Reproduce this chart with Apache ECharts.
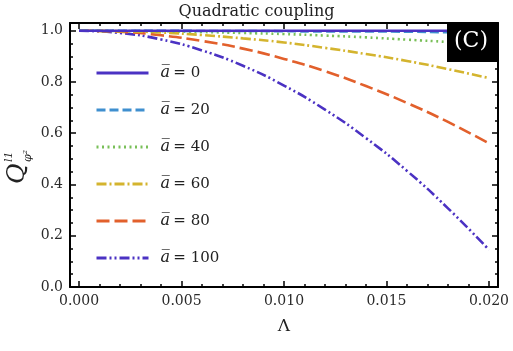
<!DOCTYPE html>
<html>
<head>
<meta charset="utf-8">
<script src="https://cdn.jsdelivr.net/npm/echarts@6/dist/echarts.min.js"></script>
<style>
  html, body { margin: 0; padding: 0; background: #fff; }
  #chart { width: 513px; height: 351px; }
</style>
</head>
<body>
<div id="chart"></div>
<script>
// values
const lambdaValues = [0, 0.002, 0.004, 0.006, 0.008, 0.010, 0.012, 0.014, 0.016, 0.018, 0.020];
const seriesNames = ['0', '20', '40', '60', '80', '100'];
const q_a0   = [1, 1, 1, 1, 1, 1, 1, 1, 1, 1, 1];
const q_a20  = [1, 1.000, 1.000, 0.999, 0.999, 0.998, 0.997, 0.997, 0.996, 0.994, 0.993];
const q_a40  = [1, 0.999, 0.998, 0.995, 0.991, 0.987, 0.981, 0.974, 0.965, 0.956, 0.946];
const q_a60  = [1, 0.998, 0.993, 0.983, 0.970, 0.954, 0.933, 0.909, 0.882, 0.850, 0.815];
const q_a80  = [1, 0.996, 0.982, 0.960, 0.930, 0.890, 0.842, 0.784, 0.718, 0.644, 0.560];
const q_a100 = [1, 0.991, 0.966, 0.923, 0.863, 0.786, 0.692, 0.581, 0.453, 0.307, 0.145];

const xMajorTicks = [0, 0.005, 0.010, 0.015, 0.020];
const xMinorTicks = [0.001, 0.002, 0.003, 0.004, 0.006, 0.007, 0.008, 0.009,
  0.011, 0.012, 0.013, 0.014, 0.016, 0.017, 0.018, 0.019];
const yMajorTicks = [0, 0.2, 0.4, 0.6, 0.8, 1.0];
const yMinorTicks = [0.05, 0.1, 0.15, 0.25, 0.3, 0.35, 0.45, 0.5, 0.55,
  0.65, 0.7, 0.75, 0.85, 0.9, 0.95];

const allValues = [q_a0, q_a20, q_a40, q_a60, q_a80, q_a100];
const colors = ['#4b32c3', '#3f8fcf', '#79bf58', '#d4b42e', '#e2602c', '#4b32c3'];
const dashes = ['solid', [9, 4], [2, 3.5], [10, 3, 2, 3], [13, 5], [10, 3, 2, 3, 2, 3]];

const serif = 'DejaVu Serif';
const X_MIN = -0.00044, X_MAX = 0.02044;
const Y_MIN = 0, Y_MAX = 1.03;

const chart = echarts.init(document.getElementById('chart'));

function tickAxis(kind, position, ticks, len, withLabels, showLine) {
  const ax = {
    type: 'value',
    position: position,
    min: kind === 'x' ? X_MIN : Y_MIN,
    max: kind === 'x' ? X_MAX : Y_MAX,
    axisLine: { show: showLine, onZero: false, lineStyle: { color: '#000', width: 2 } },
    axisTick: { show: true, inside: true, length: len, customValues: ticks,
      lineStyle: { color: '#000', width: 1.5 } },
    axisLabel: { show: false },
    splitLine: { show: false }
  };
  if (withLabels) {
    ax.axisLabel = {
      show: true,
      customValues: ticks,
      margin: 7,
      color: '#2a2a2a',
      fontFamily: serif,
      fontSize: 14,
      formatter: v => v.toFixed(kind === 'x' ? 3 : 1)
    };
  }
  return ax;
}

const xAxes = [
  tickAxis('x', 'bottom', xMajorTicks, 6, true, true),
  tickAxis('x', 'bottom', xMinorTicks, 3, false, false),
  tickAxis('x', 'top', xMajorTicks, 6, false, true),
  tickAxis('x', 'top', xMinorTicks, 3, false, false)
];
xAxes[0].name = 'Λ';
xAxes[0].nameLocation = 'middle';
xAxes[0].nameGap = 31;
xAxes[0].nameTextStyle = { fontFamily: serif, fontSize: 17, color: '#222' };

const yAxes = [
  tickAxis('y', 'left', yMajorTicks, 6, true, true),
  tickAxis('y', 'left', yMinorTicks, 3, false, false),
  tickAxis('y', 'right', yMajorTicks, 6, false, true),
  tickAxis('y', 'right', yMinorTicks, 3, false, false)
];

const series = allValues.map((vals, i) => ({
  name: seriesNames[i],
  type: 'line',
  xAxisIndex: 0,
  yAxisIndex: 0,
  data: lambdaValues.map((x, j) => [x, vals[j]]),
  smooth: true,
  symbol: 'none',
  lineStyle: { color: colors[i], width: 2.6, type: dashes[i] },
  itemStyle: { color: colors[i] },
  z: 10 - i
}));

const option = {
  animation: false,
  backgroundColor: '#fff',
  title: {
    text: 'Quadratic coupling',
    left: 'center',
    top: -1,
    textStyle: { fontFamily: serif, fontSize: 16, fontWeight: 'normal', color: '#222' }
  },
  grid: { left: 70, right: 15, top: 23, bottom: 64 },
  xAxis: xAxes,
  yAxis: yAxes,
  legend: {
    orient: 'vertical',
    left: 90,
    top: 60,
    itemWidth: 52,
    itemHeight: 14,
    itemGap: 21,
    data: seriesNames,
    itemStyle: { opacity: 0, borderWidth: 0 },
    lineStyle: { width: 3 },
    formatter: name => '{a|a\u0305} {t|= ' + name + '}',
    textStyle: {
      padding: [0, 0, 0, 7],
      rich: {
        a: { fontFamily: serif, fontStyle: 'italic', fontSize: 16, color: '#222' },
        t: { fontFamily: serif, fontSize: 15, color: '#222' }
      }
    }
  },
  graphic: [
    {
      type: 'rect', left: 447, top: 23, z: 100,
      shape: { width: 50, height: 39 },
      style: { fill: '#000' }
    },
    {
      type: 'text', left: 454, top: 30, z: 101,
      style: { text: '(C)', fill: '#fff', font: '22px "DejaVu Serif"' }
    },
    {
      type: 'text', x: 5, y: 184, rotation: Math.PI / 2, z: 100,
      style: { text: 'Q', fill: '#222', font: 'italic 25px "DejaVu Serif"' }
    },
    {
      type: 'text', x: 4, y: 162, rotation: Math.PI / 2, z: 100,
      style: { text: 'l1', fill: '#222', font: 'italic 11px "DejaVu Serif"' }
    },
    {
      type: 'text', x: 23, y: 162, rotation: Math.PI / 2, z: 100,
      style: { text: 'φ²', fill: '#222', font: 'italic 11px "DejaVu Serif"' }
    }
  ],
  series: series
};

chart.setOption(option);
</script>
</body>
</html>
